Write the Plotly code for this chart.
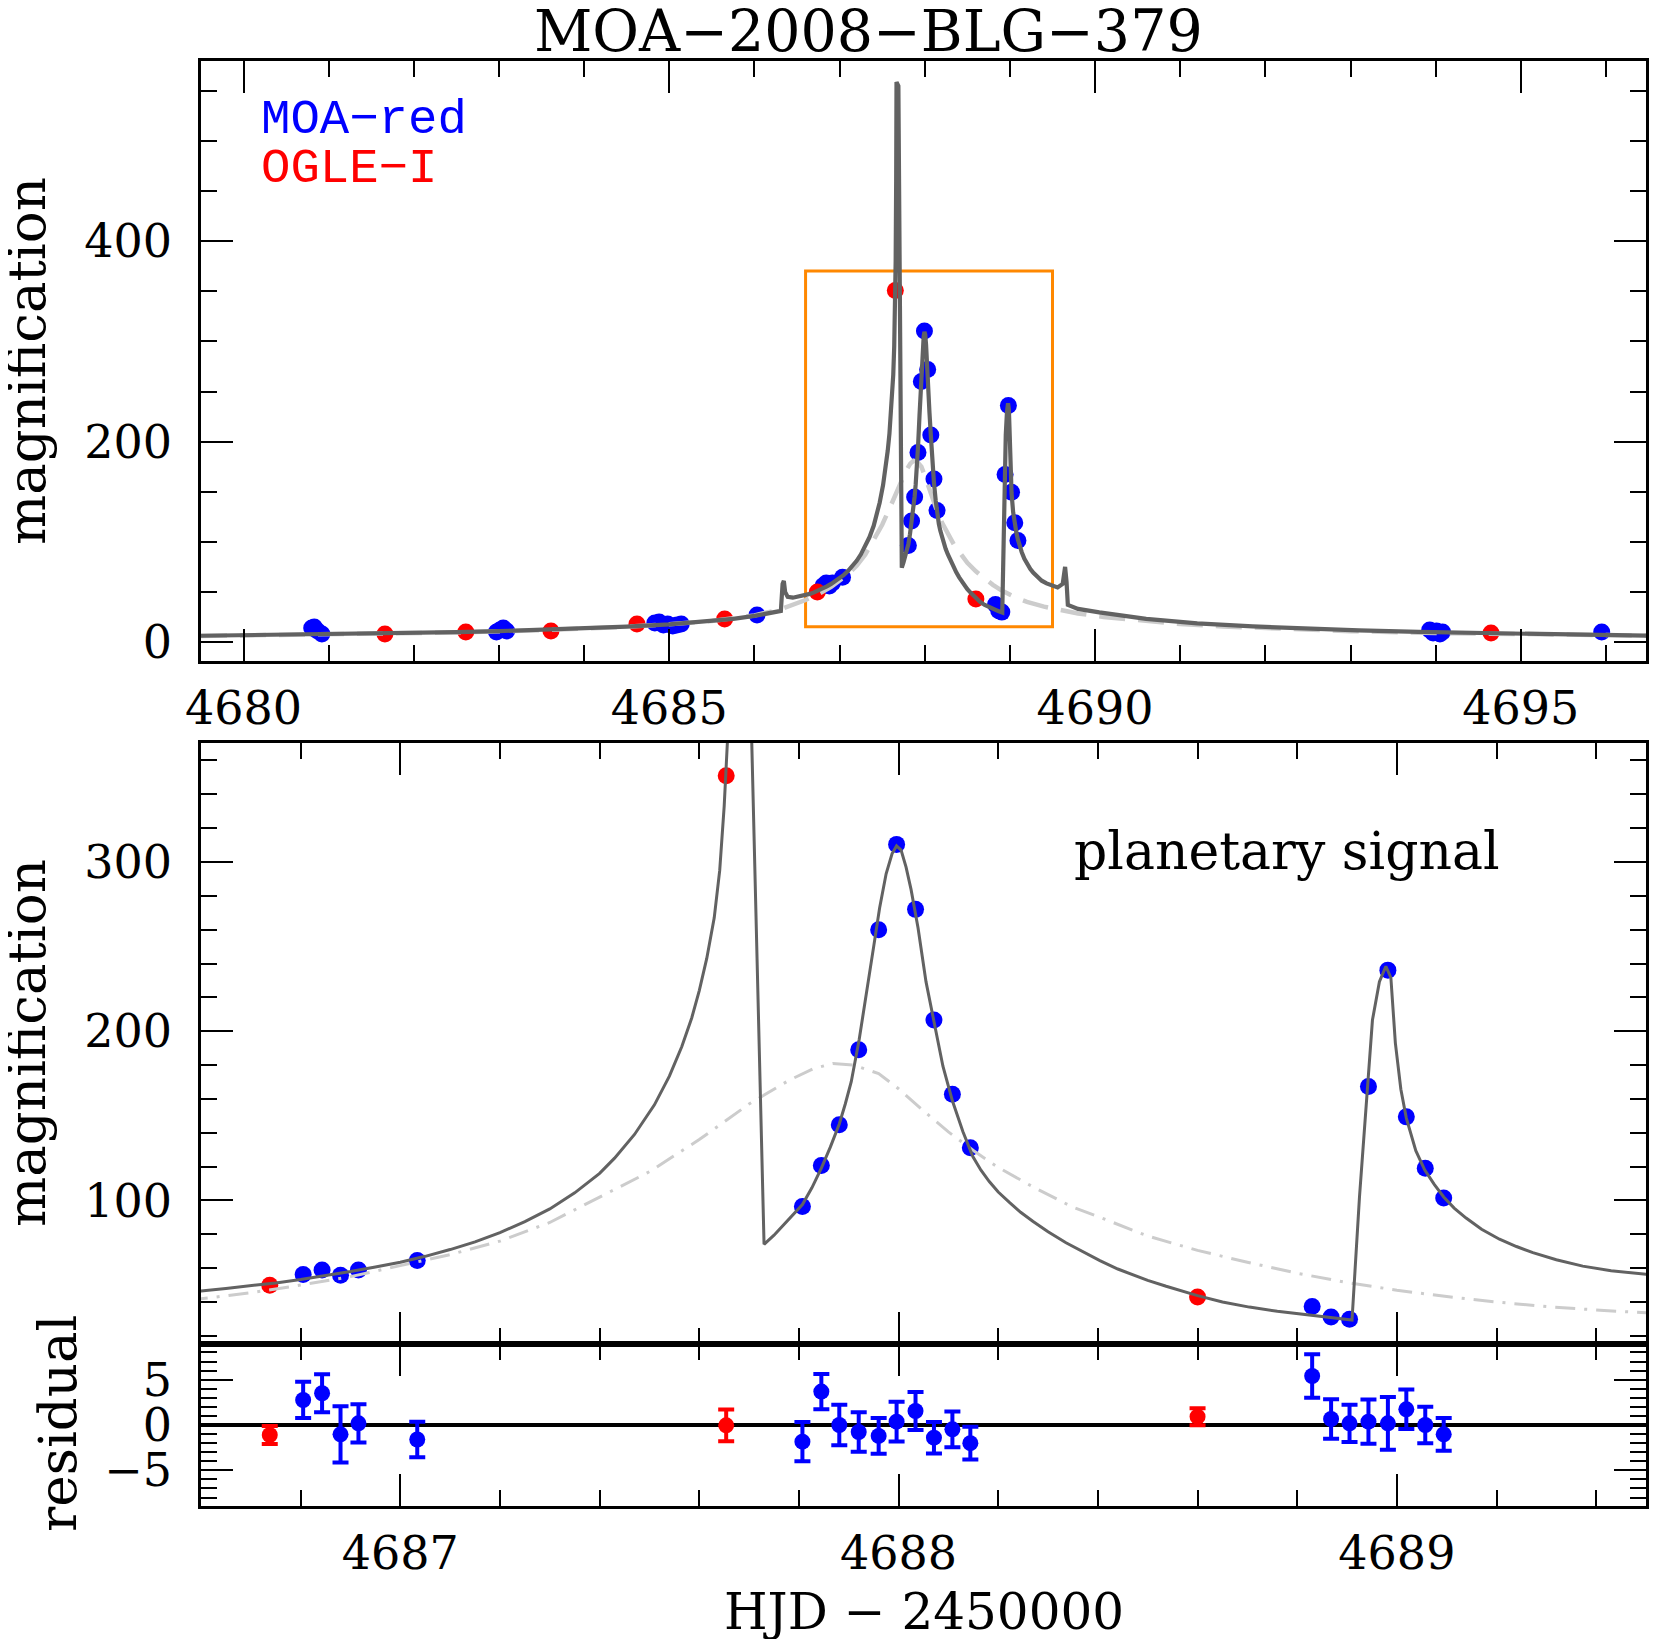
import plotly.graph_objects as go

# ---------------- data ----------------
# MOA-red points shown only in the wide (top) panel
moa_t_wide = [4680.80, 4680.83, 4680.87, 4680.92, 4682.97, 4683.01, 4683.05, 4683.09,
              4684.83, 4684.88, 4684.93, 4684.98, 4685.04, 4685.09, 4685.14, 4686.03,
              4693.93, 4693.97, 4694.01, 4694.05, 4694.08, 4695.95]
moa_A_wide = [14, 15, 11, 8, 10, 12, 14, 11,
              19, 20, 17, 18, 16, 17, 18, 27,
              12, 9, 11, 8, 10, 10]
# OGLE-I points shown only in the wide panel
ogle_t_wide = [4681.66, 4682.61, 4683.61, 4684.62, 4685.65, 4694.65]
ogle_A_wide = [8, 10, 11, 18, 23, 9]

# points inside the zoom window (with residuals)
moa_t = [4686.805, 4686.843, 4686.880, 4686.916, 4687.034,
         4687.807, 4687.845, 4687.881, 4687.920, 4687.960, 4687.996, 4688.034,
         4688.071, 4688.108, 4688.144,
         4688.830, 4688.868, 4688.905, 4688.943, 4688.982, 4689.019, 4689.057, 4689.094]
moa_A = [56.2, 58.9, 55.8, 58.9, 64.6,
         96.4, 120.7, 144.8, 189.1, 260.0, 310.4, 272.0,
         206.6, 162.7, 131.2,
         37.3, 31.2, 29.8, 167.3, 236.1, 149.4, 119.1, 101.4]
moa_res = [2.76, 3.5, -1.03, 0.18, -1.6,
           -1.84, 3.68, 0.0, -0.77, -1.2, 0.37, 1.54,
           -1.4, -0.48, -2.0,
           5.4, 0.66, 0.18, 0.37, 0.18, 1.73, 0.0, -1.03]
moa_err = [2.0, 2.1, 3.1, 2.1, 1.95,
           2.17, 1.93, 2.24, 2.17, 1.97, 2.2, 2.1,
           1.73, 1.97, 1.8,
           2.4, 2.17, 2.06, 2.44, 2.9, 2.17, 2.0, 1.8]
ogle_t = [4686.738, 4687.654, 4688.600]
ogle_A = [49.9, 350.9, 43.0]
ogle_res = [-1.1, -0.04, 0.92]
ogle_err = [1.0, 1.75, 0.94]

# planetary (binary-lens) model curve
model_t = [4679.50, 4680.50, 4681.50, 4682.50, 4683.00, 4683.50, 4684.00, 4684.50,
           4685.00, 4685.50, 4685.75, 4686.00, 4686.20, 4686.31, 4686.33, 4686.345,
           4686.36, 4686.39, 4686.45, 4686.52,
           4686.599, 4686.65, 4686.70, 4686.75, 4686.80, 4686.85, 4686.90, 4686.95,
           4687.00, 4687.05, 4687.10, 4687.15, 4687.20, 4687.25, 4687.30, 4687.35,
           4687.40, 4687.43, 4687.47, 4687.51, 4687.54, 4687.565, 4687.585, 4687.600,
           4687.615, 4687.630, 4687.641, 4687.650, 4687.658, 4687.664, 4687.668, 4687.690,
           4687.730, 4687.750, 4687.768, 4687.787, 4687.807, 4687.826, 4687.845, 4687.863,
           4687.881, 4687.893, 4687.905, 4687.921, 4687.938, 4687.950, 4687.962, 4687.975,
           4687.987, 4687.996, 4688.005, 4688.015, 4688.025, 4688.039, 4688.055, 4688.071,
           4688.089, 4688.108, 4688.129, 4688.149, 4688.165, 4688.182, 4688.200, 4688.223,
           4688.245, 4688.270, 4688.300, 4688.336, 4688.370, 4688.404, 4688.440, 4688.470,
           4688.500, 4688.537, 4688.570, 4688.600, 4688.650, 4688.704, 4688.760, 4688.830,
           4688.870, 4688.910, 4688.925, 4688.941, 4688.951, 4688.965, 4688.978, 4688.988,
           4688.997, 4689.008, 4689.019, 4689.038, 4689.056, 4689.075, 4689.094, 4689.115,
           4689.139, 4689.170, 4689.206, 4689.240, 4689.273, 4689.320, 4689.373, 4689.430,
           4689.500, 4689.560, 4689.620, 4689.648, 4689.665, 4689.680, 4689.800, 4690.050,
           4690.600, 4691.200, 4691.850, 4692.500, 4693.100, 4693.800, 4694.400, 4695.200,
           4696.000, 4696.500]
model_A = [6.2, 7.2, 8.3, 9.8, 10.8, 12.0, 13.5, 15.4,
           17.6, 20.8, 23.0, 26.0, 28.8, 31.0, 58.0, 61.0,
           50.0, 45.0, 44.2, 45.2,
           46.5, 48.0, 49.5, 51.3, 53.3, 55.5, 58.0, 60.7,
           63.5, 67.0, 71.0, 75.5, 81.0, 87.5, 95.0, 104.5,
           116.0, 125.0, 139.0, 156.5, 173.5, 191.0, 208.0, 224.0,
           243.0, 267.0, 295.0, 333.0, 380.0, 460.0, 559.0, 555.0,
           74.1, 79.5, 85.1, 91.0, 97.6, 107.5, 119.1, 131.5,
           145.2, 157.0, 170.2, 195.2, 226.0, 250.0, 273.0, 293.0,
           305.0, 309.5, 307.0, 297.0, 283.8, 261.1, 229.3, 206.6,
           179.3, 158.9, 140.7, 125.9, 118.0, 111.2, 105.0, 98.7,
           93.0, 87.6, 81.5, 75.0, 69.5, 64.5, 59.5, 56.0,
           52.8, 49.3, 46.3, 43.8, 40.0, 37.0, 34.5, 32.0,
           30.6, 29.4, 102.1, 165.8, 206.6, 229.3, 238.4, 231.6,
           193.0, 165.7, 148.7, 129.4, 118.0, 109.5, 102.1, 95.5,
           89.6, 83.0, 77.1, 72.8, 69.2, 65.0, 61.2, 58.5,
           56.5, 54.5, 58.0, 75.0, 60.0, 37.0, 33.0, 29.5,
           23.0, 18.5, 15.5, 13.0, 11.5, 10.0, 9.0, 7.8,
           6.8, 6.2]

# single-lens model curve
single_t = [4679.50, 4680.50, 4681.50, 4682.50, 4683.50, 4684.00, 4684.50, 4685.00,
            4685.50, 4686.00, 4686.30, 4686.60, 4686.70, 4686.80, 4686.90, 4687.00,
            4687.10, 4687.20, 4687.30, 4687.40, 4687.50, 4687.60, 4687.70, 4687.78,
            4687.83, 4687.868, 4687.91, 4687.96, 4688.00, 4688.05, 4688.10, 4688.15,
            4688.20, 4688.27, 4688.35, 4688.40, 4688.50, 4688.60, 4688.70, 4688.80,
            4688.90, 4689.00, 4689.10, 4689.20, 4689.30, 4689.40, 4689.50, 4689.80,
            4690.10, 4690.50, 4691.00, 4691.50, 4692.00, 4693.00, 4694.00, 4695.00,
            4696.50]
single_A = [6.0, 6.9, 8.0, 9.5, 11.7, 13.2, 15.2, 17.6,
            21.0, 26.5, 32.5, 41.9, 45.5, 50.0, 55.0, 61.5,
            68.0, 76.0, 87.0, 102.0, 117.0, 136.0, 157.0, 171.0,
            178.0, 180.9, 180.0, 175.0, 166.0, 153.0, 140.5, 129.5,
            119.5, 108.0, 96.0, 90.5, 79.0, 70.5, 63.5, 57.0,
            51.5, 47.0, 43.2, 40.0, 37.3, 35.3, 33.5, 28.5,
            25.0, 21.5, 18.0, 15.5, 13.6, 10.8, 9.0, 7.7,
            6.3]

# axis ranges
top_xrange = [4679.5, 4696.47]
top_yrange = [-19, 580]
zoom_xrange = [4686.6, 4689.5]
zoom_yrange = [15.2, 370.3]
res_yrange = [-8.93, 8.93]

# ---------------- style ----------------
PAGE_W, PAGE_H = 1660, 1639
OFF = 8                         # default page margin around the plot div
W, H = PAGE_W - OFF, PAGE_H - OFF
BLUE = "rgb(0,0,255)"
RED = "rgb(255,0,0)"
DARK = "rgb(98,98,98)"
LIGHT = "rgb(204,204,204)"
ORANGE = "rgb(255,136,0)"
SERIF = "DejaVu Serif"
MONO = "Liberation Mono, Cousine, monospace"

def fx(px):            # page pixel -> paper fraction
    return (px - OFF) / W
def fy(py):
    return 1 - (py - OFF) / H

xdom = [fx(201), fx(1646)]
def ydom(top_px, bot_px):
    return [fy(bot_px), fy(top_px)]

fig = go.Figure()

# ---- top panel ----
fig.add_trace(go.Scatter(x=moa_t_wide + moa_t, y=moa_A_wide + moa_A, mode="markers",
                         marker=dict(color=BLUE, size=17), xaxis="x", yaxis="y"))
fig.add_trace(go.Scatter(x=ogle_t_wide + ogle_t, y=ogle_A_wide + ogle_A, mode="markers",
                         marker=dict(color=RED, size=17), xaxis="x", yaxis="y"))
fig.add_trace(go.Scatter(x=single_t, y=single_A, mode="lines",
                         line=dict(color=LIGHT, width=4.5, dash="26px,13px"),
                         xaxis="x", yaxis="y"))
fig.add_trace(go.Scatter(x=model_t, y=model_A, mode="lines",
                         line=dict(color=DARK, width=4.2), xaxis="x", yaxis="y"))

# ---- middle panel ----
fig.add_trace(go.Scatter(x=moa_t, y=moa_A, mode="markers",
                         marker=dict(color=BLUE, size=17), xaxis="x2", yaxis="y2"))
fig.add_trace(go.Scatter(x=ogle_t, y=ogle_A, mode="markers",
                         marker=dict(color=RED, size=17), xaxis="x2", yaxis="y2"))
fig.add_trace(go.Scatter(x=single_t, y=single_A, mode="lines",
                         line=dict(color=LIGHT, width=3, dash="20px,9px,3px,9px"),
                         xaxis="x2", yaxis="y2"))
fig.add_trace(go.Scatter(x=model_t, y=model_A, mode="lines",
                         line=dict(color=DARK, width=3), xaxis="x2", yaxis="y2"))

# ---- residual panel ----
fig.add_trace(go.Scatter(x=moa_t, y=moa_res, mode="markers",
                         error_y=dict(type="data", array=moa_err, color=BLUE, thickness=4, width=8),
                         marker=dict(color=BLUE, size=16), xaxis="x3", yaxis="y3"))
fig.add_trace(go.Scatter(x=ogle_t, y=ogle_res, mode="markers",
                         error_y=dict(type="data", array=ogle_err, color=RED, thickness=4, width=8),
                         marker=dict(color=RED, size=16), xaxis="x3", yaxis="y3"))

tickfont = dict(family=SERIF, size=46, color="black")

def xax(rng, anchor, dtick, tick0, minor_dtick, labels=True):
    return dict(domain=xdom, range=rng, anchor=anchor, dtick=dtick, tick0=tick0,
                ticks="inside", ticklen=32, tickwidth=2, tickcolor="black",
                minor=dict(dtick=minor_dtick, tick0=tick0, ticks="inside", ticklen=16,
                           tickwidth=2, tickcolor="black", showgrid=False),
                showline=True, linecolor="black", linewidth=2.5, mirror="ticks",
                showgrid=False, zeroline=False, showticklabels=labels,
                tickfont=tickfont, ticklabelstandoff=5, automargin=False)

def yax(dom, rng, anchor, dtick, minor_dtick):
    return dict(domain=dom, range=rng, anchor=anchor, dtick=dtick, tick0=0,
                ticks="inside", ticklen=32, tickwidth=2, tickcolor="black",
                minor=dict(dtick=minor_dtick, tick0=0, ticks="inside", ticklen=16,
                           tickwidth=2, tickcolor="black", showgrid=False),
                showline=True, linecolor="black", linewidth=2.5, mirror="ticks",
                showgrid=False, zeroline=False, tickfont=tickfont,
                ticklabelstandoff=17, automargin=False)

y3 = yax(ydom(1344, 1506), res_yrange, "x3", 5, 1)
y3.update(zeroline=True, zerolinecolor="black", zerolinewidth=4)

fig.update_layout(
    width=W, height=H, margin=dict(l=0, r=0, t=0, b=0, autoexpand=False),
    paper_bgcolor="white", plot_bgcolor="white", showlegend=False,
    xaxis=xax(top_xrange, "y", 5, 4680, 1),
    yaxis=yax(ydom(61, 661), top_yrange, "x", 200, 50),
    xaxis2=xax(zoom_xrange, "y2", 1, 4687, 0.2, labels=False),
    yaxis2=yax(ydom(743, 1344), zoom_yrange, "x2", 100, 20),
    xaxis3=xax(zoom_xrange, "y3", 1, 4687, 0.2),
    yaxis3=y3,
)

# zoom-window box on the top panel
fig.add_shape(type="rect", xref="x", yref="y",
              x0=zoom_xrange[0], x1=zoom_xrange[1], y0=zoom_yrange[0], y1=zoom_yrange[1],
              line=dict(color=ORANGE, width=3), fillcolor="rgba(0,0,0,0)", layer="below")

def ann(text, px, py, size, color="black", family=SERIF, xanchor="center", angle=0):
    fig.add_annotation(text=text, x=fx(px), y=fy(py), xref="paper", yref="paper",
                       showarrow=False, xanchor=xanchor, yanchor="middle", textangle=angle,
                       font=dict(family=family, size=size, color=color))

ann("MOA\u22122008\u2212BLG\u2212379", 868, 31, 57)
ann("MOA\u2212red", 259, 120, 49, BLUE, MONO, "left")
ann("OGLE\u2212I", 259, 169, 49, RED, MONO, "left")
ann("planetary signal", 1287, 851, 52)
ann("magnification", 26, 361, 53, angle=-90)
ann("magnification", 26, 1043, 53, angle=-90)
ann("residual", 57, 1424, 53, angle=-90)
ann("HJD \u2212 2450000", 924, 1612, 50)

fig.write_html("out.html")
